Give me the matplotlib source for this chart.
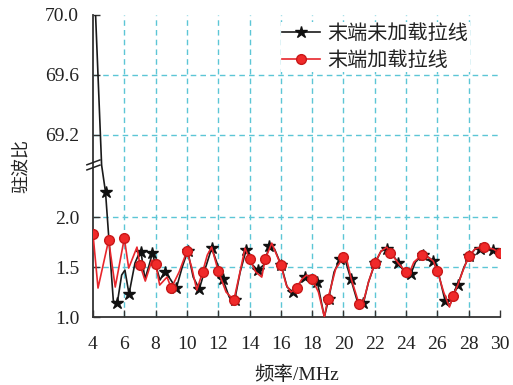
import numpy as np
import matplotlib
matplotlib.use("Agg")
from matplotlib import pyplot as plt

# 末端未加载拉线 (black, stars)
black_x = [4.05, 4.55, 4.8, 5.3, 5.55, 5.83, 6.04, 6.3, 6.68, 6.9, 7.07, 7.32, 7.55, 7.79,
           8.28, 8.58, 8.85, 9.32, 9.7, 10.05, 10.4, 10.79, 11.2, 11.58, 12.29, 12.7, 13.05,
           13.4, 13.78, 14.2, 14.52, 14.9, 15.27, 15.6, 16.02, 16.4, 16.76, 17.2, 17.55, 18.0,
           18.33, 18.78, 19.05, 19.4, 19.78, 20.1, 20.47, 20.9, 21.27, 21.6, 22.02, 22.4, 22.77,
           23.1, 23.51, 23.9, 24.3, 24.6, 25.05, 25.4, 25.74, 26.1, 26.49, 26.8, 27.3, 27.7,
           28.05, 28.4, 28.73, 29.1, 29.58, 30.0]
black_y = [70.3, 20.0, 2.25, 1.16, 1.14, 1.42, 1.47, 1.23, 1.54, 1.62, 1.647, 1.38, 1.50, 1.637,
           1.37, 1.45, 1.40, 1.287, 1.50, 1.66, 1.40, 1.28, 1.50, 1.69, 1.38, 1.20, 1.17,
           1.45, 1.67, 1.52, 1.47, 1.52, 1.71, 1.68, 1.52, 1.30, 1.25, 1.34, 1.40, 1.38,
           1.35, 1.0, 1.18, 1.45, 1.58, 1.58, 1.38, 1.15, 1.137, 1.35, 1.54, 1.66, 1.68,
           1.63, 1.543, 1.45, 1.43, 1.55, 1.62, 1.60, 1.563, 1.42, 1.163, 1.12, 1.32, 1.50,
           1.61, 1.68, 1.68, 1.70, 1.67, 1.64]
black_marks = [4.8, 5.55, 6.3, 7.07, 7.79, 8.58, 9.32, 10.05, 10.79, 11.58, 12.29, 13.05,
               13.78, 14.52, 15.27, 16.02, 16.76, 17.55, 18.33, 19.05, 19.78, 20.47, 21.27,
               22.02, 22.77, 23.51, 24.3, 25.05, 25.74, 26.49, 27.3, 28.05, 28.73, 29.58]

# 末端加载拉线 (red, circles)
red_x = [4.0, 4.32, 5.0, 5.42, 6.0, 6.28, 6.81, 7.0, 7.34, 7.77, 8.0, 8.26, 8.73, 9.0, 9.5,
         10.0, 10.3, 10.63, 11.0, 11.3, 11.58, 12.0, 12.5, 13.0, 13.35, 13.71, 14.0, 14.4,
         14.78, 15.0, 15.42, 16.0, 16.35, 16.65, 17.0, 17.35, 17.65, 18.0, 18.4, 18.78, 19.0,
         19.5, 20.0, 20.2, 20.5, 21.0, 21.3, 21.6, 22.0, 22.4, 22.77, 23.0, 23.5, 24.0, 24.15,
         24.5, 25.0, 25.4, 25.74, 26.0, 26.4, 26.77, 27.0, 27.3, 27.6, 28.0, 28.4, 28.73, 29.0,
         29.58, 30.0]
red_y = [1.83, 1.29, 1.77, 1.30, 1.79, 1.49, 1.70, 1.52, 1.36, 1.57, 1.53, 1.32, 1.40, 1.29, 1.45,
         1.66, 1.50, 1.27, 1.45, 1.62, 1.70, 1.46, 1.25, 1.17, 1.42, 1.69, 1.58, 1.45,
         1.40, 1.58, 1.74, 1.52, 1.32, 1.25, 1.29, 1.38, 1.42, 1.38, 1.25, 1.0, 1.18,
         1.48, 1.60, 1.58, 1.38, 1.13, 1.17, 1.35, 1.54, 1.66, 1.70, 1.645, 1.54, 1.45, 1.42,
         1.55, 1.62, 1.60, 1.56, 1.46, 1.25, 1.10, 1.21, 1.32, 1.45, 1.61, 1.68, 1.70, 1.70,
         1.68, 1.64]

x_ticks = list(range(4, 31, 2))
y_ticks = [1.0, 1.5, 2.0, 69.2, 69.6, 70.0]

SERIF = ['Liberation Serif', 'Noto Sans CJK SC']
GRID = '#5cc6d6'

# broken y axis: 1.0-2.52 below, 69-70 above
LOW_TOP, GAP, HIGH_BOT, HIGH_K = 2.52, 0.005, 69.0, 1.5


def fwd(v):
    v = np.asarray(v, float)
    u_low = v - 1.0
    u_mid = (LOW_TOP - 1.0) + GAP * (v - LOW_TOP) / (HIGH_BOT - LOW_TOP)
    u_high = (LOW_TOP - 1.0) + GAP + HIGH_K * (v - HIGH_BOT)
    return np.where(v <= LOW_TOP, u_low, np.where(v >= HIGH_BOT, u_high, u_mid))


def inv(u):
    u = np.asarray(u, float)
    b1 = LOW_TOP - 1.0
    b2 = b1 + GAP
    v_low = u + 1.0
    v_mid = LOW_TOP + (u - b1) / GAP * (HIGH_BOT - LOW_TOP)
    v_high = HIGH_BOT + (u - b2) / HIGH_K
    return np.where(u <= b1, v_low, np.where(u >= b2, v_high, v_mid))


fig = plt.figure(figsize=(5.13, 3.85), dpi=100)
ax = fig.add_axes([93 / 513, 68 / 385, 407 / 513, 302 / 385])
ax.set_yscale('function', functions=(fwd, inv))
ax.set_xlim(4, 30)
ax.set_ylim(1.0, 70.0)

for gx in x_ticks[1:-1]:
    ax.axvline(gx, color=GRID, lw=1, ls=(0, (4, 3)), zorder=0)
for gy in [1.5, 2.0, 69.2, 69.6]:
    ax.axhline(gy, color=GRID, lw=1, ls=(0, (4, 3)), zorder=0)

bmark = [i for i, x in enumerate(black_x) if x in black_marks]
ax.plot(black_x, black_y, color='#1a1a1a', lw=1.2, marker='*', ms=9,
        markevery=bmark, mfc='#111111', mec='#111111', label='末端未加载拉线', zorder=3)
rmark = [i for i, x in enumerate(red_x) if float(x).is_integer()]
ax.plot(red_x, red_y, color='#e8262c', lw=1.2, marker='o', ms=7,
        markevery=rmark, mfc='#f02a2a', mec='#c81818', label='末端加载拉线', zorder=4)

ax.set_xticks(x_ticks)
ax.set_yticks(y_ticks)
ax.set_yticklabels(['%.1f' % t for t in y_ticks])
ax.minorticks_off()
ax.tick_params(direction='in', length=5, width=1, color='#333333', labelsize=14,
               labelcolor='#222222')
ax.tick_params(axis='y', pad=10)
ax.tick_params(axis='x', pad=13.5)
for lab in ax.get_xticklabels() + ax.get_yticklabels():
    lab.set_fontfamily(SERIF)

for s in ['top', 'right']:
    ax.spines[s].set_visible(False)
for s in ['left', 'bottom']:
    ax.spines[s].set_color('#333333')
    ax.spines[s].set_linewidth(1.3)

# axis break marks on the left spine
for dy in (0.0, 0.017):
    ax.plot([-0.015, 0.017], [0.487 + dy, 0.503 + dy], transform=ax.transAxes,
            color='#222222', lw=1.1, clip_on=False, zorder=5)

ax.set_xlabel('频率/MHz', fontsize=14, family=SERIF, labelpad=9.5, color='#222222')
ax.set_ylabel('驻波比', fontsize=13, family=SERIF, labelpad=10.5, color='#222222')

leg = ax.legend(loc='upper left', bbox_to_anchor=(0.438, 1.01), frameon=True,
                fancybox=False, edgecolor='none', facecolor='white', framealpha=1,
                prop={'family': ['Noto Sans CJK SC'], 'size': 14.5},
                handlelength=1.85, handletextpad=0.4, labelspacing=0.3, borderpad=0.05)
for t in leg.get_texts():
    t.set_color('#222222')

fig.savefig('out.png', dpi=100)
